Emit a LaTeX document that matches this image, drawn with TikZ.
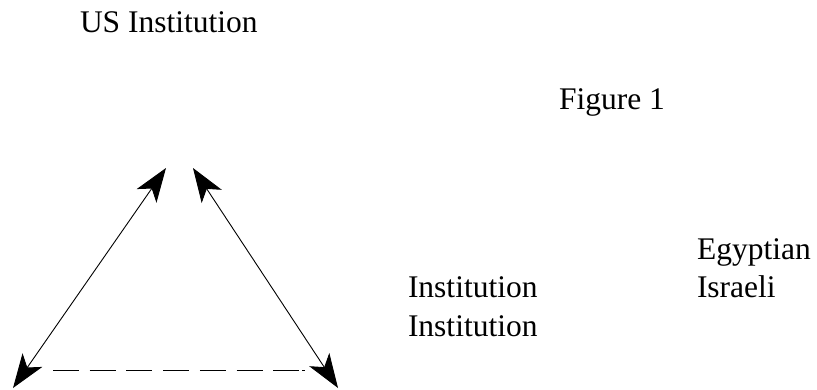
\documentclass[tikz,border=0pt]{standalone}
\usepackage{fontspec}
\setmainfont{Liberation Serif}
\usetikzlibrary{arrows.meta}
\tikzset{
  lbl/.style={anchor=base west, inner sep=0pt, outer sep=0pt, font=\fontsize{31.5}{38}\selectfont},
  tip/.style={Stealth[length=34pt,width=24pt,inset=9pt]},
  conn/.style={line width=0.9pt, {Stealth[length=34pt,width=24pt,inset=9pt]}-{Stealth[length=34pt,width=24pt,inset=9pt]}},
  dashline/.style={line width=0.9pt, dash pattern=on 26pt off 10.7pt on 26pt off 10.7pt on 26pt off 10.7pt on 26pt off 10.7pt on 26pt off 10.7pt on 26pt off 10.7pt on 26pt off 3pt on 3pt off 200pt}
}
\begin{document}
\begin{tikzpicture}[x=1pt,y=-1pt]
\useasboundingbox (0,0) rectangle (817,389);
\node[lbl] (us) at (80,32) {US Institution};
\node[lbl] (fig) at (559,109) {Figure 1};
\node[lbl] (egy) at (697,259) {Egyptian};
\node[lbl] (isr) at (697,297) {Israeli};
\node[lbl] (inst1) at (408,297) {Institution};
\node[lbl] (inst2) at (408,336) {Institution};
\coordinate (ltop) at (166,168);
\coordinate (rtop) at (193,168);
\coordinate (lbot) at (13,388);
\coordinate (rbot) at (338,388);
\coordinate (dl) at (53,370);
\coordinate (dr) at (305,370);
\draw[conn] (lbot) -- (ltop);
\draw[conn] (rtop) -- (rbot);
\draw[dashline] (dl) -- (dr);
\end{tikzpicture}
\end{document}
